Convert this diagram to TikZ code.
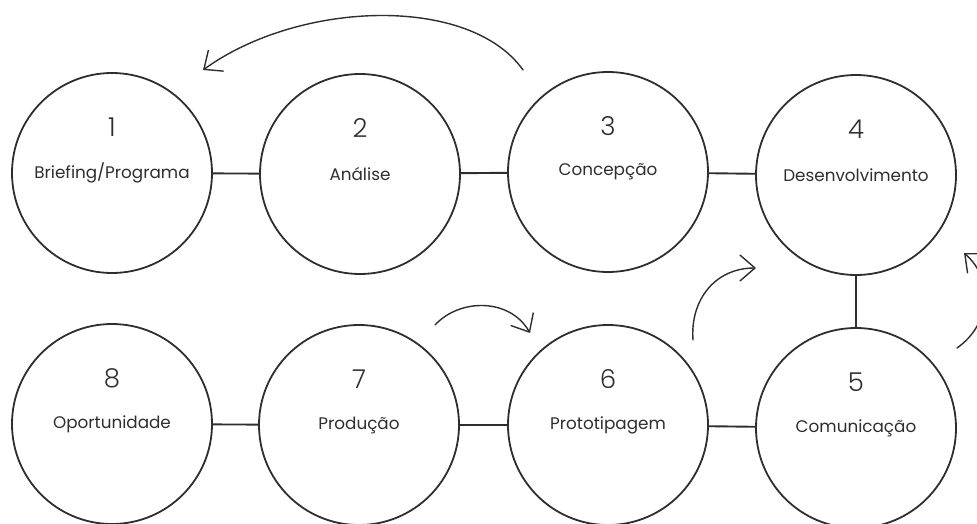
\documentclass[tikz,border=0pt]{standalone}
\usepackage{fontspec}
\setmainfont{Poppins}
\newfontfamily\numfont{Poppins}[UprightFont=* Light]
\usetikzlibrary{arrows.meta}
\definecolor{ink}{HTML}{2E2E2E}
\tikzset{
  stage/.style={circle, draw=ink, line width=1.8pt, minimum size=200pt, inner sep=0pt,
    font=\fontsize{16.8}{19}\selectfont, text=ink},
  num/.style={font=\numfont\fontsize{26}{28}\selectfont, text=ink},
  link/.style={draw=ink, line width=1.9pt},
  flow/.style={draw=ink, line width=1.4pt, line cap=round,
    -{Straight Barb[length=15pt, width=26pt, line width=1.4pt]}}
}
\begin{document}
\begin{tikzpicture}[x=1pt, y=-1pt]
\useasboundingbox (0,0) rectangle (977,524);
\clip (0,0) rectangle (977,524);
\node[stage] (c1) at (112,173) {Briefing/Programa};
\node[stage] (c2) at (360,174) {Análise};
\node[stage] (c3) at (608,172) {Concepção};
\node[stage] (c4) at (856,175) {Desenvolvimento};
\node[stage] (c5) at (856,428) {Comunicação};
\node[stage] (c6) at (608,425) {Prototipagem};
\node[stage] (c7) at (359,425) {Produção};
\node[stage] (c8) at (112,424) {Oportunidade};
\foreach \c/\n in {c1/1,c2/2,c3/3,c4/4,c5/5,c6/6,c7/7,c8/8}
  \node[num] (n\c) at ([yshift=46pt]\c.center) {\n};
\draw[link] (c1) -- (c2);
\draw[link] (c2) -- (c3);
\draw[link] (c3) -- (c4);
\draw[link] (c4) -- (c5);
\draw[link] (c6) -- (c5);
\draw[link] (c7) -- (c6);
\draw[link] (c8) -- (c7);
\coordinate (a1s) at (523,70);
\coordinate (a1e) at (203,70);
\draw[flow] (a1s) .. controls (470,-5) and (300,0) .. (a1e);
\coordinate (a2s) at (435,325);
\coordinate (a2e) at (530,333);
\draw[flow] (a2s) .. controls (460,298) and (510,298) .. (a2e);
\coordinate (a3s) at (693,340);
\coordinate (a3e) at (756,268);
\draw[flow] (a3s) .. controls (690,300) and (715,268) .. (a3e);
\coordinate (a4s) at (957,348);
\coordinate (a4e) at (964,253);
\draw[flow] (a4s) .. controls (990,325) and (995,280) .. (a4e);
\end{tikzpicture}
\end{document}
